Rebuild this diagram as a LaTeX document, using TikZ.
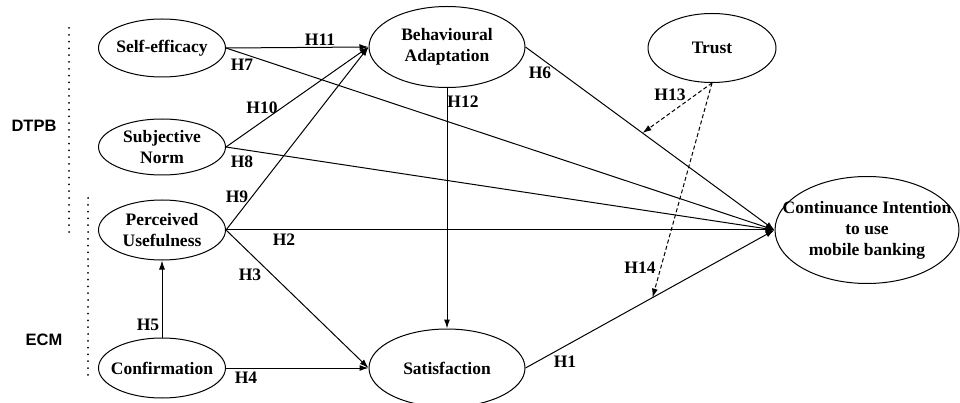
\documentclass[tikz,border=0pt]{standalone}
\usepackage{fontspec}
\setmainfont{Liberation Serif}
\setsansfont{Liberation Sans}
\usetikzlibrary{shapes.geometric,arrows.meta,calc}

\tikzset{
  construct/.style={draw, ellipse, inner sep=-40pt, line width=1pt, align=center,
    font=\bfseries\fontsize{17.5}{21}\selectfont},
  hyp/.style={inner sep=0pt, font=\bfseries\fontsize{17.5}{21}\selectfont},
  group/.style={inner sep=0pt, font=\sffamily\bfseries\fontsize{16.5}{18}\selectfont},
  rel/.style={-{Latex[length=9pt,width=6pt]}, line width=1pt},
  moder/.style={rel, dash pattern=on 4pt off 2.5pt},
  sep/.style={line width=2pt, line cap=round, dash pattern=on 0pt off 6.8pt},
}

\begin{document}
\begin{tikzpicture}[x=1pt, y=-1pt]
    \useasboundingbox (0,0) rectangle (960,403);

    % constructs
    \node[construct, minimum width=127pt, minimum height=58pt] (se) at (162,48) {Self-efficacy};
    \node[construct, minimum width=127pt, minimum height=56pt] (sn) at (162,147) {Subjective\\Norm};
    \node[construct, minimum width=127pt, minimum height=60pt] (pu) at (162,230) {Perceived\\Usefulness};
    \node[construct, minimum width=127pt, minimum height=60pt] (cf) at (162,368) {Confirmation};
    \node[construct, minimum width=156pt, minimum height=81pt] (ba) at (447,47) {Behavioural\\Adaptation};
    \node[construct, minimum width=156pt, minimum height=78pt] (sat) at (447,368) {Satisfaction};
    \node[construct, minimum width=128pt, minimum height=69pt] (tr) at (712,48) {Trust};
    \node[construct, minimum width=184pt, minimum height=107pt] (ci) at (867,230)
      {Continuance Intention\\to use\\mobile banking};

    % groups
    \draw[sep] (69,28) -- (69,232);
    \draw[sep] (88,198) -- (88,378);
    \node[group] (dtpb) at (34,126) {DTPB};
    \node[group] (ecm) at (44,340) {ECM};

    % paths
    \draw[rel] (se.east) -- (ba.west);
    \draw[rel] (se.east) -- (ci.west);
    \draw[rel] (sn.east) -- (ba.west);
    \draw[rel] (sn.east) -- (ci.west);
    \draw[rel] (pu.east) -- (ba.west);
    \draw[rel] (pu.east) -- (ci.west);
    \draw[rel] (pu.east) -- (sat.west);
    \draw[rel] (cf.north) -- (pu.south);
    \draw[rel] (cf.east) -- (sat.west);
    \draw[rel] (ba.south) -- (sat.north);
    \draw[rel] (ba.east) -- (ci.west);
    \draw[rel] (sat.east) -- (ci.west);

    % moderation by trust
    \coordinate (m6) at ($(ba.east)!0.47!(ci.west)$);
    \coordinate (m1) at ($(sat.east)!0.51!(ci.west)$);
    \draw[moder] (tr.south) -- (m6);
    \draw[moder] (tr.south) -- (m1);

    % hypotheses
    \node[hyp] (h11) at (320,40) {H11};
    \node[hyp] (h7) at (242,65) {H7};
    \node[hyp] (h10) at (262,108) {H10};
    \node[hyp] (h8) at (242,162) {H8};
    \node[hyp] (h9) at (237,197) {H9};
    \node[hyp] (h2) at (284,240) {H2};
    \node[hyp] (h3) at (250,275) {H3};
    \node[hyp] (h5) at (148,325) {H5};
    \node[hyp] (h4) at (246,378) {H4};
    \node[hyp] (h12) at (463,102) {H12};
    \node[hyp] (h6) at (540,73) {H6};
    \node[hyp] (h1) at (565,362) {H1};
    \node[hyp] (h13) at (670,95) {H13};
    \node[hyp] (h14) at (640,268) {H14};
\end{tikzpicture}
\end{document}
